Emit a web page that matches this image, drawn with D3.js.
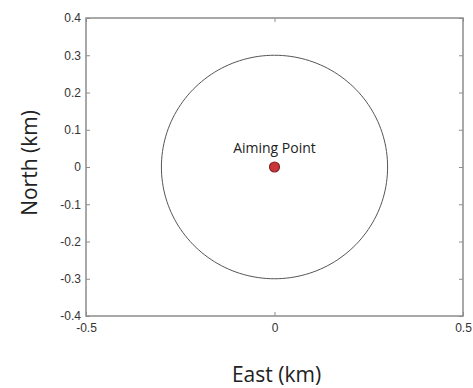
<!DOCTYPE html>
<html>
<head>
<meta charset="utf-8">
<script src="https://cdn.jsdelivr.net/npm/d3@7"></script>
<style>
  body { margin: 0; background: #fff; }
  .tick text { font-family: "Liberation Sans", Arial, sans-serif; font-size: 12px; fill: #333; }
  .lbl { font-family: "Open Sans", "Noto Sans", sans-serif; fill: #222; }
</style>
</head>
<body>
<svg id="chart" width="473" height="388"></svg>
<script>
// axis ticks
var xTicks = [-0.5, 0, 0.5];
var yTicks = [-0.4, -0.3, -0.2, -0.1, 0, 0.1, 0.2, 0.3, 0.4];
// aiming point and radius (km)
var aimPoint = { east: 0, north: 0, label: "Aiming Point" };
var circleRadius = 0.3;

var svg = d3.select("#chart");
var margin = { left: 86, top: 18, right: 10, bottom: 72 };
var width = 473 - margin.left - margin.right,
    height = 388 - margin.top - margin.bottom;

var x = d3.scaleLinear().domain([-0.5, 0.5]).range([0, width]);
var y = d3.scaleLinear().domain([-0.4, 0.4]).range([height, 0]);

var g = svg.append("g").attr("transform", "translate(" + margin.left + "," + margin.top + ")");

// box
g.append("rect")
  .attr("width", width).attr("height", height)
  .attr("fill", "none").attr("stroke", "#8c8c8c").attr("stroke-width", 1.5);

// plain hyphen like the original
var fmt = function (d) { return d === 0 ? "0" : d3.format(".1f")(d).replace("\u2212", "-"); };

// bottom axis
var xa = g.append("g").attr("transform", "translate(0," + height + ")")
  .call(d3.axisBottom(x).tickValues(xTicks).tickSize(-4).tickPadding(7).tickFormat(fmt));
// left axis
var ya = g.append("g")
  .call(d3.axisLeft(y).tickValues(yTicks).tickSize(-4).tickPadding(5).tickFormat(fmt));
// mirror ticks
var ta = g.append("g").call(d3.axisTop(x).tickValues(xTicks).tickSize(-4).tickFormat(""));
var ra = g.append("g").attr("transform", "translate(" + width + ",0)")
  .call(d3.axisRight(y).tickValues(yTicks).tickSize(-4).tickFormat(""));

[xa, ya, ta, ra].forEach(function (a) {
  a.select(".domain").remove();
  a.selectAll(".tick line").attr("stroke", "#8c8c8c");
});

// circle of radius 0.3 km
var circ = d3.range(0, 361, 2).map(function (a) {
  var t = a * Math.PI / 180;
  return [aimPoint.east + circleRadius * Math.cos(t), aimPoint.north + circleRadius * Math.sin(t)];
});
g.append("path")
  .datum(circ)
  .attr("d", d3.line().x(function (d) { return x(d[0]); }).y(function (d) { return y(d[1]); }))
  .attr("fill", "none").attr("stroke", "#555").attr("stroke-width", 1);

// aiming point
g.append("circle")
  .attr("cx", x(aimPoint.east)).attr("cy", y(aimPoint.north)).attr("r", 5)
  .attr("fill", "#c8363a").attr("stroke", "#8a2325").attr("stroke-width", 1.2);

g.append("text").attr("class", "lbl")
  .attr("x", x(aimPoint.east)).attr("y", y(aimPoint.north) - 14)
  .attr("text-anchor", "middle").attr("font-size", 14)
  .text(aimPoint.label);

// axis titles
svg.append("text").attr("class", "lbl")
  .attr("x", margin.left + x(0) + 2).attr("y", 382)
  .attr("text-anchor", "middle").attr("font-size", 21)
  .text("East (km)");

svg.append("text").attr("class", "lbl")
  .attr("transform", "translate(37," + (margin.top + y(0) - 4) + ") rotate(-90)")
  .attr("text-anchor", "middle").attr("font-size", 21)
  .text("North (km)");
</script>
</body>
</html>
